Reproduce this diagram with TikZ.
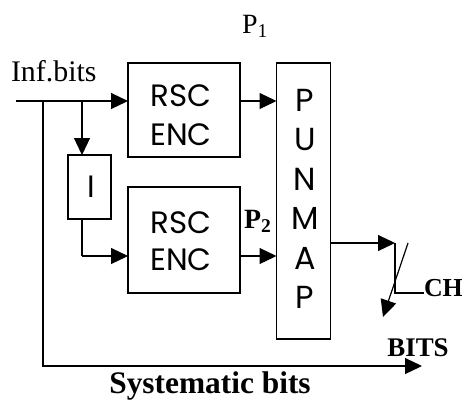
\documentclass[tikz,border=0pt]{standalone}
\usepackage{fontspec}
\setmainfont{Liberation Serif}
\newfontfamily\gothic{Poppins}
\usetikzlibrary{arrows.meta}
\begin{document}
\begin{tikzpicture}[x=1bp,y=-1bp,
  every node/.style={inner sep=0pt,outer sep=0pt},
  blk/.style={draw,line width=1.2bp,rectangle},
  gtext/.style={font=\gothic\fontsize{31}{39}\selectfont,align=center},
  conn/.style={line width=1.2bp},
  arr/.style={conn,-{Triangle[length=17bp,width=16bp]}}]
\useasboundingbox (0,0) rectangle (462,401);
% blocks
\node[blk,minimum width=112bp,minimum height=94bp] (rsc1) at (184,110) {};
\node[gtext] (rsc1t) at (181,115) {RSC\\ENC};
\node[blk,minimum width=112bp,minimum height=106bp] (rsc2) at (184,240) {};
\node[gtext,font=\gothic\fontsize{31}{37}\selectfont] (rsc2t) at (181,241) {RSC\\ENC};
\node[blk,minimum width=43bp,minimum height=64bp] (intl) at (89.5,187) {};
\node[gtext] (intlt) at (91,187) {I};
\node[blk,minimum width=54bp,minimum height=276bp] (pun) at (303.5,201) {};
\node[gtext,font=\gothic\fontsize{32}{39.6}\selectfont] (punt) at (305,199) {P\\U\\N\\M\\A\\P};
% labels
\node[anchor=base west,font=\fontsize{30}{32}\selectfont] (inf) at (11,81) {Inf.bits};
\node[anchor=base west,font=\fontsize{28}{30}\selectfont] (p1) at (242,33) {P\textsubscript{1}};
\node[anchor=base west,font=\bfseries\fontsize{28}{30}\selectfont] (p2) at (244,228) {P\textsubscript{2}};
\node[anchor=base west,font=\bfseries\fontsize{26}{28}\selectfont] (ch) at (424,296) {CH};
\node[anchor=base,font=\bfseries\fontsize{27}{28}\selectfont] (bits) at (418,356) {BITS};
\node[anchor=base,font=\bfseries\fontsize{31.5}{33}\selectfont] (sysb) at (210,393) {Systematic bits};
% coordinates
\coordinate (in) at (16,101);
\coordinate (br1) at (82,101);
\coordinate (sys0) at (43,101);
\coordinate (sys1) at (43,366);
\coordinate (sysend) at (422,366);
\coordinate (ibend) at (82,256);
\coordinate (sw) at (395,243);
\coordinate (swb) at (395,293);
\coordinate (d1) at (408,243);
\coordinate (d2) at (383,317);
% connectors
\draw[arr] (in) -- (in -| rsc1.west);
\draw[arr] (br1) -- (br1 |- intl.north);
\draw[conn] (br1 |- intl.south) -- (ibend);
\draw[arr] (ibend) -- (ibend -| rsc2.west);
\draw[arr] (rsc1.east |- in) -- (pun.west |- in);
\draw[arr] (rsc2.east |- ibend) -- (pun.west |- ibend);
\draw[arr] (pun.east |- sw) -- (sw);
\draw[conn] (sw) -- (swb) -- (swb -| ch.west);
\draw[arr] (d1) -- (d2);
\draw[arr] (sys0) -- (sys1) -- (sysend);
\end{tikzpicture}
\end{document}
